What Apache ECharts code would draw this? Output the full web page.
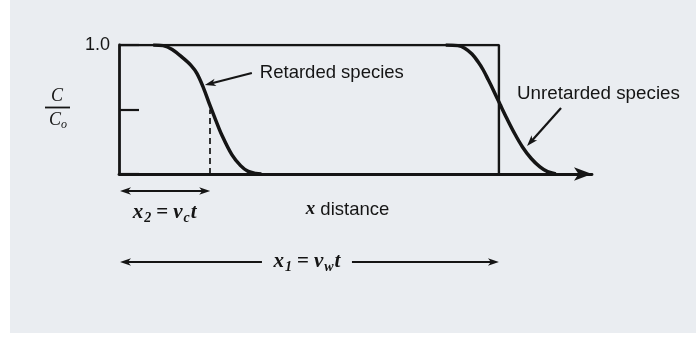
<!DOCTYPE html>
<html>
<head>
<meta charset="utf-8">
<script src="https://cdn.jsdelivr.net/npm/echarts@6/dist/echarts.min.js"></script>
<style>
  html, body { margin: 0; padding: 0; background: #ffffff; }
  #chart { position: absolute; left: 10px; top: 0; width: 686px; height: 333px; }
</style>
</head>
<body>
<div id="chart"></div>
<script>
// Distance is expressed in units of the water front position x1 = v_w t.
// Retarded species breakthrough front (relative concentration C/C0)
const retardedX = [0.09, 0.116, 0.14, 0.168, 0.19, 0.205, 0.222, 0.239, 0.253, 0.271, 0.297, 0.32, 0.34, 0.36, 0.375];
const retardedC = [1.0, 0.995, 0.965, 0.90, 0.84, 0.78, 0.67, 0.535, 0.43, 0.30, 0.15, 0.065, 0.02, 0.004, 0.0];

// Unretarded species front, dispersed around x1
const unretardedX = [0.86, 0.892, 0.91, 0.929, 0.945, 0.958, 0.972, 0.987, 1.003, 1.021, 1.042, 1.062, 1.085, 1.108, 1.128, 1.15];
const unretardedC = [1.0, 0.995, 0.975, 0.93, 0.87, 0.81, 0.73, 0.64, 0.54, 0.43, 0.31, 0.21, 0.12, 0.055, 0.018, 0.0];

// Plug-flow step front (no dispersion)
const stepX = [0, 1, 1];
const stepC = [1, 1, 0];

// Front positions marked on the distance axis
const retardedFront = 0.24;   // x2 = v_c t
const waterFront = 1.0;       // x1 = v_w t
const xMax = 1.245;

// Labels
const yLabelValue = 1;
const retardedName = 'Retarded species';
const unretardedName = 'Unretarded species';

const INK = '#151515';
const SANS = '"Liberation Sans", Arial, sans-serif';
const SERIF = '"Liberation Serif", "Times New Roman", serif';

const pair = (xs, ys) => xs.map((x, i) => [x, ys[i]]);

const chart = echarts.init(document.getElementById('chart'), null, { renderer: 'canvas' });

chart.setOption({
  backgroundColor: '#eaedf1',
  animation: false,
  grid: { left: 109, right: 104, top: 45, bottom: 159 },
  xAxis: {
    type: 'value', min: 0, max: xMax,
    name: '{i|x} distance',
    nameLocation: 'middle',
    nameGap: 26,
    nameTextStyle: {
      fontFamily: SANS, fontSize: 18.5, color: INK, padding: [0, 16, 0, 0],
      rich: { i: { fontFamily: SERIF, fontStyle: 'italic', fontWeight: 'bold', fontSize: 19, color: INK } }
    },
    axisLine: {
      show: true, onZero: true,
      lineStyle: { color: INK, width: 2.8 },
      symbol: ['none', 'arrow'], symbolSize: [10, 18]
    },
    axisTick: { show: false },
    axisLabel: { show: false },
    splitLine: { show: false }
  },
  yAxis: {
    type: 'value', min: 0, max: 1, interval: 0.5,
    axisLine: { show: true, lineStyle: { color: INK, width: 2.8 } },
    axisTick: { show: true, inside: true, length: 20, lineStyle: { color: INK, width: 2.2 } },
    axisLabel: {
      formatter: v => (v === yLabelValue ? v.toFixed(1) : ''),
      fontFamily: SANS, fontSize: 18, color: INK, margin: 9
    },
    splitLine: { show: false }
  },
  series: [
    {
      name: 'step', type: 'line', data: pair(stepX, stepC),
      symbol: 'none', silent: true, z: 2,
      lineStyle: { color: INK, width: 2.4 }
    },
    {
      name: retardedName, type: 'line', data: pair(retardedX, retardedC),
      symbol: 'none', smooth: 0.35, silent: true, z: 3,
      lineStyle: { color: INK, width: 3.5 },
      markLine: {
        silent: true, symbol: ['none', 'none'], animation: false,
        label: { show: false },
        lineStyle: { color: INK, width: 1.7, type: [6, 4] },
        data: [[{ coord: [retardedFront, 0] }, { coord: [retardedFront, 0.5] }]]
      }
    },
    {
      name: unretardedName, type: 'line', data: pair(unretardedX, unretardedC),
      symbol: 'none', smooth: 0.35, silent: true, z: 3,
      lineStyle: { color: INK, width: 3.5 }
    }
  ]
});

// ---- annotations: pointer arrows, dimension arrows, C/C0 label ----
const px = (x, y) => chart.convertToPixel({ gridIndex: 0 }, [x, y]);

function head(tx, ty, fx, fy, len, wid) {
  const a = Math.atan2(ty - fy, tx - fx);
  const c = Math.cos(a), s = Math.sin(a);
  const bx = tx - len * c, by = ty - len * s;
  const nx = -s * wid / 2, ny = c * wid / 2;
  const mx = tx - len * 0.72 * c, my = ty - len * 0.72 * s;
  return {
    type: 'polygon', silent: true, z: 10,
    shape: { points: [[tx, ty], [bx + nx, by + ny], [mx, my], [bx - nx, by - ny]] },
    style: { fill: INK }
  };
}
function line(x1, y1, x2, y2, w) {
  return { type: 'line', silent: true, z: 10, shape: { x1, y1, x2, y2 }, style: { stroke: INK, lineWidth: w } };
}
function text(x, y, str, style) {
  return { type: 'text', silent: true, z: 10, x, y, style: Object.assign({ text: str, fill: INK }, style) };
}

const mathRich = {
  m: { fontFamily: SERIF, fontStyle: 'italic', fontWeight: 'bold', fontSize: 21, color: INK },
  o: { fontFamily: SERIF, fontWeight: 'bold', fontSize: 21, color: INK, padding: [0, 5, 0, 4] },
  s: { fontFamily: SERIF, fontStyle: 'italic', fontWeight: 'bold', fontSize: 14, color: INK, padding: [11, 1, 0, 1] }
};

const g = [];
const [x0, axisY] = px(0, 0);
const xr = px(retardedFront, 0)[0];
const xw = px(waterFront, 0)[0];

// x2 = v_c t
const y2 = axisY + 17;
g.push(line(x0 + 4, y2, xr - 4, y2, 2.2));
g.push(head(x0 + 1, y2, xr, y2, 11, 7.5));
g.push(head(xr, y2, x0, y2, 11, 7.5));
g.push(text((x0 + xr) / 2, axisY + 39, '{m|x}{s|2}{o|=}{m|v}{s|c}{m|t}', {
  align: 'center', verticalAlign: 'middle', rich: mathRich
}));

// x1 = v_w t
const y1 = axisY + 88;
const xm = (x0 + xw) / 2;
g.push(line(x0 + 4, y1, xm - 47, y1, 2.2));
g.push(line(xm + 43, y1, xw - 4, y1, 2.2));
g.push(head(x0 + 1, y1, xw, y1, 11, 7.5));
g.push(head(xw, y1, x0, y1, 11, 7.5));
g.push(text(xm - 2, y1, '{m|x}{s|1}{o|=}{m|v}{s|w}{m|t}', {
  align: 'center', verticalAlign: 'middle', rich: mathRich
}));

// Retarded species pointer
const [rtX, rtY] = px(0.226, 0.69);
const rTail = [rtX + 47, rtY - 12];
g.push(line(rTail[0], rTail[1], rtX + 6, rtY - 1.5, 2.2));
g.push(head(rtX, rtY, rTail[0], rTail[1], 11, 7.5));
g.push(text(rTail[0] + 8, rTail[1], retardedName, {
  fontFamily: SANS, fontSize: 18.5, align: 'left', verticalAlign: 'middle'
}));

// Unretarded species pointer
const [utX, utY] = px(1.074, 0.217);
const uTail = [utX + 34, utY - 38];
g.push(line(uTail[0], uTail[1], utX + 5, utY - 5.5, 2.2));
g.push(head(utX, utY, uTail[0], uTail[1], 11, 7.5));
g.push(text(uTail[0] - 44, uTail[1] - 14, unretardedName, {
  fontFamily: SANS, fontSize: 18.8, align: 'left', verticalAlign: 'middle'
}));

// C / C0 axis label
const fracX = x0 - 62;
const fracY = px(0, 0.5)[1] - 2;
g.push(text(fracX, fracY - 11, '{m|C}', {
  align: 'center', verticalAlign: 'middle',
  rich: { m: { fontFamily: SERIF, fontStyle: 'italic', fontSize: 18, color: INK } }
}));
g.push(line(fracX - 12, fracY, fracX + 13, fracY, 1.8));
g.push(text(fracX + 1, fracY + 13, '{m|C}{s|o}', {
  align: 'center', verticalAlign: 'middle',
  rich: {
    m: { fontFamily: SERIF, fontStyle: 'italic', fontSize: 18, color: INK },
    s: { fontFamily: SERIF, fontStyle: 'italic', fontSize: 12, color: INK, padding: [8, 0, 0, 0] }
  }
}));

chart.setOption({ graphic: g });
</script>
</body>
</html>
